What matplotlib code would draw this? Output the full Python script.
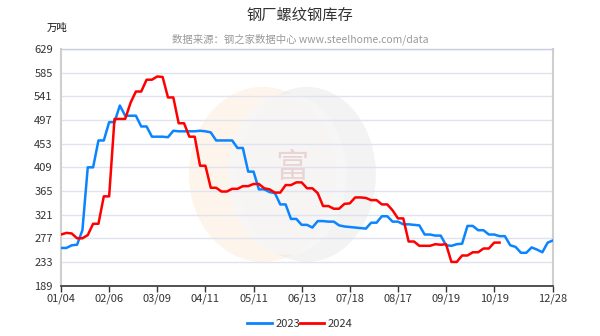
import matplotlib
matplotlib.use("Agg")
import matplotlib.pyplot as plt
from matplotlib.patches import Ellipse
from matplotlib.lines import Line2D

plt.rcParams['font.family'] = ['Noto Sans CJK SC', 'DejaVu Sans']

title = "钢厂螺纹钢库存"
subtitle = "数据来源：钢之家数据中心 www.steelhome.com/data"
unit = "万吨"

tick_labels = ["01/04", "02/06", "03/09", "04/11", "05/11", "06/13",
               "07/18", "08/17", "09/19", "10/19", "12/28"]
y_ticks = [189, 233, 277, 321, 365, 409, 453, 497, 541, 585, 629]

s2023 = [259, 259, 264, 265, 292, 409, 409, 459, 459, 493,
         493, 524, 505, 505, 505, 485, 485, 466, 466, 466,
         465, 477, 476, 476, 476, 476, 477, 476, 474, 459,
         459, 459, 459, 445, 445, 401, 401, 368, 368, 363,
         361, 340, 340, 313, 313, 302, 302, 297, 309, 309,
         308, 308, 301, 299, 298, 297, 296, 295, 306, 306,
         318, 318, 308, 308, 303, 303, 302, 301, 284, 284,
         282, 282, 264, 263, 266, 267, 300, 300, 292, 292,
         284, 284, 281, 281, 264, 261, 250, 250, 260, 256,
         251, 269, 273]

s2024 = [284, 287, 286, 277, 277, 283, 304, 304, 355, 355,
         499, 499, 499, 529, 550, 550, 572, 572, 578, 577,
         539, 539, 491, 491, 466, 466, 412, 412, 371, 371,
         364, 364, 369, 369, 374, 374, 378, 378, 370, 368,
         362, 362, 376, 376, 381, 381, 370, 370, 361, 337,
         337, 332, 332, 341, 342, 353, 353, 352, 348, 348,
         340, 340, 329, 314, 314, 271, 271, 263, 263, 263,
         266, 265, 266, 233, 233, 245, 245, 251, 251, 258,
         258, 269, 269]

n_cat = len(s2023)
tick_pos = list(range(0, 82, 9)) + [n_cat - 1]

fig = plt.figure(figsize=(6, 3.36), dpi=100)
ax = fig.add_axes([0.1017, 0.150, 0.82, 0.704])

# watermark (faint sphere logo)
ax.add_patch(Ellipse((0.41, 0.47), 0.30, 0.74, transform=ax.transAxes,
                     facecolor="#f9dcc0", alpha=0.30, edgecolor="none", zorder=0))
ax.add_patch(Ellipse((0.50, 0.47), 0.28, 0.74, transform=ax.transAxes,
                     facecolor="#dedede", alpha=0.35, edgecolor="none", zorder=0))
ax.add_patch(Ellipse((0.46, 0.47), 0.24, 0.68, transform=ax.transAxes,
                     facecolor="#f7f7f7", alpha=0.85, edgecolor="none", zorder=0))
ax.text(0.47, 0.50, "富", transform=ax.transAxes, ha="center", va="center",
        fontsize=24, color="#c98a8a", alpha=0.30, zorder=0)

for v in y_ticks[1:]:
    ax.axhline(v, color="#e0e3ef", lw=1, zorder=1)

x23 = list(range(len(s2023)))
x24 = list(range(len(s2024)))
ax.plot(x23, s2023, color="#0a84ff", lw=1.8, zorder=3, solid_joinstyle="round")
ax.plot(x24, s2024, color="#ff0000", lw=1.8, zorder=3, solid_joinstyle="round")

ax.set_xlim(0, n_cat - 1)
ax.set_ylim(189, 629)
ax.set_yticks(y_ticks)
ax.set_yticklabels([str(v) for v in y_ticks], fontsize=8, color="#333333")
ax.set_xticks(tick_pos)
ax.set_xticklabels(tick_labels, fontsize=8, color="#333333")
ax.tick_params(axis="y", length=0, pad=6)
ax.tick_params(axis="x", length=4, width=1, color="#333333", pad=2)

for side in ["left", "right"]:
    ax.spines[side].set_color("#cfcfcf")
    ax.spines[side].set_linewidth(1.5)
ax.spines["top"].set_color("#c8cde0")
ax.spines["top"].set_linewidth(1)
ax.spines["bottom"].set_color("#333333")
ax.spines["bottom"].set_linewidth(1.2)

fig.text(0.5, 0.955, title, ha="center", va="center", fontsize=11, color="#333333")
fig.text(0.5, 0.882, subtitle, ha="center", va="center", fontsize=7.5, color="#999999")
fig.text(0.095, 0.918, unit, ha="center", va="center", fontsize=7.5, color="#111111")

handles = [Line2D([], [], color="#0a84ff", lw=2), Line2D([], [], color="#ff0000", lw=2)]
fig.legend(handles, ["2023", "2024"], loc="center", bbox_to_anchor=(0.5, 0.035),
           ncol=2, frameon=False, fontsize=8, handlelength=2.2, handletextpad=0.3,
           columnspacing=0.0, labelcolor="#333333")

fig.savefig("out.png", dpi=100)
